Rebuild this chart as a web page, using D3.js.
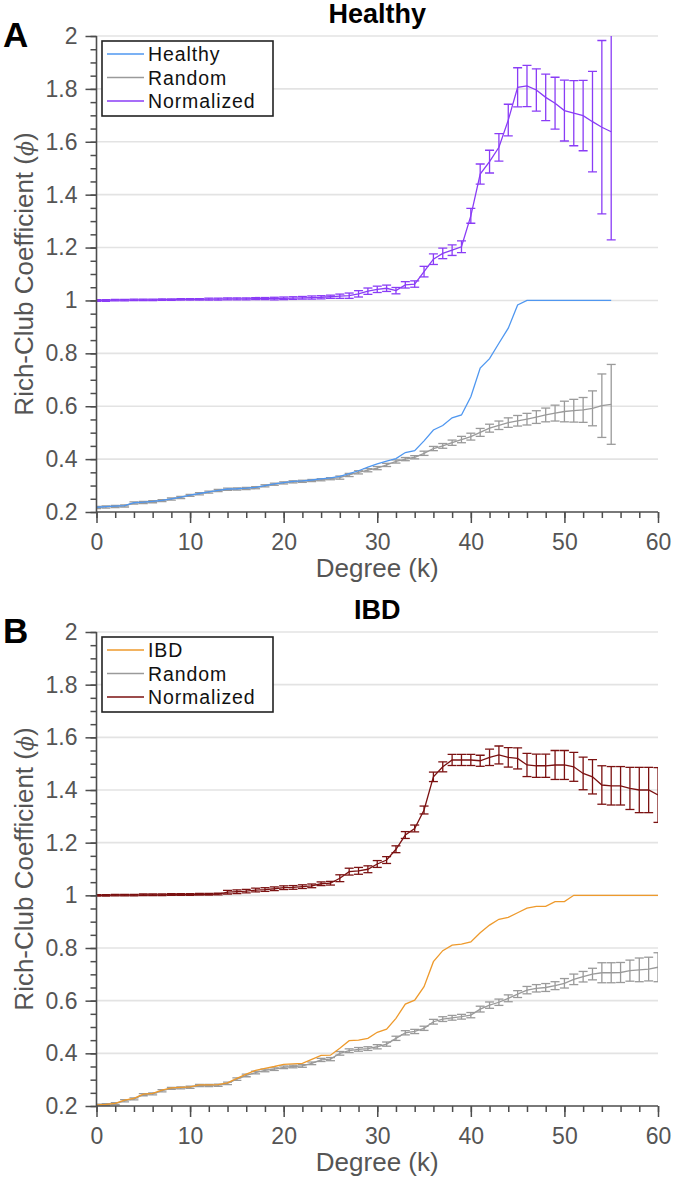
<!DOCTYPE html>
<html>
<head>
<meta charset="utf-8">
<script src="https://cdn.jsdelivr.net/npm/d3@7"></script>
<style>
  body{margin:0;background:#fff;}
  svg{display:block;font-family:"Liberation Sans",Arial,Helvetica,sans-serif;}
</style>
</head>
<body>
<script>
// degree values
var kHealthy=d3.range(0,56);
var kIBD=d3.range(0,61);

// panel A - healthy
var healthyVals=[0.218,0.220,0.222,0.224,0.235,0.237,0.240,0.244,0.250,0.256,
  0.264,0.270,0.276,0.282,0.287,0.288,0.290,0.293,0.300,0.306,
  0.311,0.316,0.318,0.321,0.325,0.329,0.335,0.345,0.356,0.370,
  0.382,0.392,0.402,0.425,0.432,0.469,0.510,0.527,0.556,0.567,
  0.636,0.744,0.780,0.838,0.895,0.983,1,1,1,1,
  1,1,1,1,1,1];
var healthyRandom=[0.217,0.219,0.221,0.223,0.234,0.236,0.239,0.243,0.249,0.255,
  0.263,0.269,0.275,0.281,0.286,0.287,0.289,0.292,0.299,0.305,
  0.310,0.314,0.316,0.319,0.322,0.326,0.330,0.340,0.350,0.358,
  0.366,0.378,0.391,0.400,0.407,0.422,0.440,0.450,0.462,0.474,
  0.485,0.501,0.517,0.528,0.538,0.545,0.551,0.559,0.567,0.574,
  0.580,0.583,0.586,0.592,0.602,0.607];
var healthyRandomErr=[0.004,0.004,0.004,0.004,0.004,0.004,0.004,0.004,0.004,0.004,
  0.004,0.004,0.004,0.004,0.004,0.004,0.004,0.004,0.004,0.004,
  0.004,0.004,0.004,0.004,0.004,0.004,0.006,0.006,0.006,0.006,
  0.006,0.006,0.006,0.006,0.006,0.008,0.008,0.009,0.01,0.012,
  0.013,0.015,0.015,0.016,0.018,0.02,0.022,0.024,0.026,0.03,
  0.039,0.043,0.047,0.066,0.12,0.151];
var healthyNorm=[1.000,1.000,1.001,1.001,1.002,1.002,1.002,1.003,1.003,1.004,
  1.004,1.004,1.005,1.005,1.006,1.006,1.006,1.007,1.007,1.007,
  1.008,1.009,1.010,1.011,1.012,1.014,1.016,1.018,1.025,1.035,
  1.042,1.046,1.037,1.059,1.062,1.109,1.156,1.178,1.190,1.203,
  1.320,1.478,1.525,1.579,1.682,1.806,1.811,1.796,1.768,1.746,
  1.718,1.708,1.699,1.676,1.655,1.638];
var healthyNormErr=[0.003,0.003,0.003,0.003,0.003,0.003,0.003,0.003,0.003,0.003,
  0.003,0.003,0.004,0.004,0.004,0.004,0.004,0.004,0.004,0.005,
  0.005,0.005,0.005,0.006,0.006,0.006,0.008,0.01,0.012,0.012,
  0.012,0.012,0.012,0.012,0.012,0.02,0.02,0.02,0.02,0.022,
  0.028,0.038,0.043,0.052,0.06,0.074,0.078,0.08,0.088,0.098,
  0.115,0.123,0.133,0.19,0.328,0.409];

// panel B - IBD
var ibdVals=[0.204,0.206,0.210,0.222,0.229,0.245,0.248,0.260,0.269,0.271,
  0.273,0.280,0.280,0.281,0.288,0.305,0.321,0.335,0.343,0.350,
  0.358,0.360,0.362,0.377,0.392,0.393,0.419,0.448,0.450,0.457,
  0.480,0.492,0.533,0.587,0.602,0.653,0.748,0.790,0.811,0.815,
  0.823,0.858,0.887,0.909,0.916,0.934,0.951,0.958,0.958,0.976,
  0.976,1,1,1,1,1,1,1,1,1,1];
var ibdRandom=[0.203,0.205,0.209,0.220,0.227,0.243,0.246,0.258,0.267,0.269,
  0.271,0.278,0.278,0.279,0.286,0.302,0.316,0.327,0.335,0.340,
  0.347,0.350,0.352,0.362,0.375,0.378,0.400,0.410,0.415,0.418,
  0.425,0.435,0.457,0.478,0.483,0.495,0.520,0.530,0.535,0.539,
  0.545,0.568,0.583,0.594,0.609,0.625,0.640,0.647,0.650,0.657,
  0.666,0.681,0.691,0.701,0.706,0.706,0.707,0.714,0.717,0.720,0.727];
var ibdRandomErr=[0.004,0.004,0.004,0.004,0.004,0.004,0.004,0.004,0.004,0.004,
  0.004,0.004,0.004,0.004,0.005,0.005,0.005,0.005,0.005,0.005,
  0.005,0.005,0.005,0.005,0.006,0.006,0.007,0.007,0.007,0.007,
  0.008,0.008,0.008,0.008,0.008,0.008,0.009,0.009,0.009,0.009,
  0.01,0.011,0.012,0.012,0.013,0.013,0.014,0.014,0.015,0.015,
  0.018,0.02,0.02,0.022,0.038,0.038,0.038,0.04,0.045,0.045,0.055];
var ibdNorm=[1.000,1.000,1.001,1.001,1.001,1.002,1.002,1.002,1.003,1.003,
  1.003,1.004,1.004,1.005,1.012,1.014,1.016,1.020,1.022,1.025,
  1.029,1.030,1.033,1.036,1.044,1.046,1.065,1.090,1.093,1.099,
  1.119,1.134,1.175,1.229,1.254,1.324,1.450,1.488,1.514,1.514,
  1.514,1.511,1.524,1.533,1.524,1.520,1.495,1.492,1.492,1.495,
  1.495,1.488,1.463,1.450,1.419,1.416,1.416,1.406,1.400,1.400,1.381];
var ibdNormErr=[0.003,0.003,0.003,0.003,0.003,0.003,0.003,0.003,0.003,0.003,
  0.003,0.003,0.003,0.003,0.007,0.007,0.007,0.007,0.007,0.007,
  0.007,0.007,0.007,0.007,0.007,0.007,0.013,0.013,0.013,0.013,
  0.013,0.013,0.013,0.013,0.013,0.015,0.018,0.019,0.021,0.021,
  0.021,0.021,0.031,0.034,0.037,0.04,0.044,0.044,0.044,0.055,
  0.055,0.055,0.062,0.065,0.073,0.073,0.073,0.08,0.086,0.086,0.104];

// ticks
var xTicks=[0,10,20,30,40,50,60];
var yTicks=[0.2,0.4,0.6,0.8,1,1.2,1.4,1.6,1.8,2];

var panels=[
  {letter:'A',title:'Healthy',top:36,bottom:512,k:kHealthy,
   series:[
     {name:'Healthy',vals:healthyVals,color:'#4f97f0'},
     {name:'Random',vals:healthyRandom,err:healthyRandomErr,color:'#9a9a9a'},
     {name:'Normalized',vals:healthyNorm,err:healthyNormErr,color:'#8a3cf6'}]},
  {letter:'B',title:'IBD',top:632,bottom:1106,k:kIBD,
   series:[
     {name:'IBD',vals:ibdVals,color:'#ee9a2c'},
     {name:'Random',vals:ibdRandom,err:ibdRandomErr,color:'#9a9a9a'},
     {name:'Normalized',vals:ibdNorm,err:ibdNormErr,color:'#7b1111'}]}
];

var width=675, height=1183;
var left=96.5, right=658;
var axisColor='#4d4d4d';

var svg=d3.select('body').append('svg')
  .attr('width',width)
  .attr('height',height);

panels.forEach(drawPanel);

function drawPanel(p,pi){
  var x=d3.scaleLinear().domain([0,60]).range([left,right]);
  var y=d3.scaleLinear().domain([0.2,2]).range([p.bottom,p.top]);
  var g=svg.append('g');

  // grid
  g.selectAll('line.grid')
    .data(yTicks.slice(1))
    .enter().append('line')
    .attr('class','grid')
    .attr('x1',left).attr('x2',right)
    .attr('y1',d=>y(d)).attr('y2',d=>y(d))
    .style('stroke','#e3e3e3')
    .style('stroke-width',1.6);

  // clip
  g.append('clipPath').attr('id','clip'+pi)
    .append('rect')
    .attr('x',left).attr('y',p.top)
    .attr('width',right-left).attr('height',p.bottom-p.top);

  var plot=g.append('g').attr('clip-path','url(#clip'+pi+')');
  var line=d3.line()
    .x((d,i)=>x(p.k[i]))
    .y(d=>y(d));

  // draw in order: random, main, normalized
  [1,0,2].forEach(function(si){
    var s=p.series[si];
    if(s.err){
      var eb=plot.append('g');
      var pts=s.vals.map((v,i)=>({k:p.k[i],v:v,e:s.err[i]}));
      eb.selectAll('line.bar').data(pts).enter().append('line')
        .attr('x1',d=>x(d.k)).attr('x2',d=>x(d.k))
        .attr('y1',d=>y(d.v+d.e)).attr('y2',d=>y(d.v-d.e))
        .style('stroke',s.color).style('stroke-width',1.3);
      eb.selectAll('line.capt').data(pts).enter().append('line')
        .attr('x1',d=>x(d.k)-4.5).attr('x2',d=>x(d.k)+4.5)
        .attr('y1',d=>y(d.v+d.e)).attr('y2',d=>y(d.v+d.e))
        .style('stroke',s.color).style('stroke-width',1.3);
      eb.selectAll('line.capb').data(pts).enter().append('line')
        .attr('x1',d=>x(d.k)-4.5).attr('x2',d=>x(d.k)+4.5)
        .attr('y1',d=>y(d.v-d.e)).attr('y2',d=>y(d.v-d.e))
        .style('stroke',s.color).style('stroke-width',1.3);
    }
    plot.append('path')
      .datum(s.vals)
      .attr('d',line)
      .style('fill','none')
      .style('stroke',s.color)
      .style('stroke-width',1.3);
  });

  // axes
  var xAxis=g.append('g').attr('transform','translate(0,'+p.bottom+')')
    .call(d3.axisBottom(x).tickValues(xTicks).tickSize(11).tickPadding(11).tickFormat(d3.format('d')));
  g.append('g').attr('transform','translate(0,'+p.bottom+')')
    .call(d3.axisBottom(x).tickValues(d3.range(0,61,2)).tickSize(6).tickFormat(''))
    .select('.domain').remove();
  var yAxis=g.append('g').attr('transform','translate('+left+',0)')
    .call(d3.axisLeft(y).tickValues(yTicks).tickSize(11).tickPadding(8).tickFormat(d3.format('~g')));
  g.append('g').attr('transform','translate('+left+',0)')
    .call(d3.axisLeft(y).tickValues(d3.range(0.2,2.001,0.05)).tickSize(6).tickFormat(''))
    .select('.domain').remove();

  xAxis.select('.domain').remove();
  yAxis.select('.domain').remove();
  g.append('path')
    .attr('d','M'+left+','+p.top+'V'+p.bottom+'H'+right)
    .style('fill','none').style('stroke',axisColor).style('stroke-width',1.6);
  g.selectAll('.tick line').style('stroke',axisColor).style('stroke-width',1.5);
  g.selectAll('.tick text')
    .style('font-size','23px')
    .style('fill','#555')
    .style('font-family','"Liberation Sans",Arial,sans-serif');

  // title
  g.append('text')
    .attr('x',(left+right)/2).attr('y',p.top-13)
    .attr('text-anchor','middle')
    .style('font-size','27px').style('font-weight','bold')
    .text(p.title);
  // panel letter
  g.append('text')
    .attr('x',3).attr('y',p.top+11)
    .style('font-size','35px').style('font-weight','bold')
    .text(p.letter);
  // axis labels
  g.append('text')
    .attr('x',(left+right)/2).attr('y',p.bottom+65)
    .attr('text-anchor','middle')
    .style('font-size','26px').style('fill','#555')
    .text('Degree (k)');
  var yl=g.append('text')
    .attr('transform','translate(33,'+((p.top+p.bottom)/2)+') rotate(-90)')
    .attr('text-anchor','middle')
    .style('font-size','26px').style('fill','#555');
  yl.append('tspan').text('Rich-Club Coefficient (');
  yl.append('tspan').style('font-style','italic').style('font-family','"DejaVu Serif",serif').style('font-size','22px').text('ϕ');
  yl.append('tspan').text(')');

  // legend
  var lg=g.append('g').attr('transform','translate(102,'+(p.top+5)+')');
  lg.append('rect')
    .attr('width',171).attr('height',75)
    .style('fill','#fff').style('stroke','#222').style('stroke-width',1.6);
  var items=lg.selectAll('g.item').data(p.series).enter().append('g')
    .attr('transform',(d,i)=>'translate(0,'+(13+i*23.5)+')');
  items.append('line')
    .attr('x1',5).attr('x2',42)
    .style('stroke',d=>d.color).style('stroke-width',1.5);
  items.append('text')
    .attr('x',46).attr('dy','0.36em')
    .style('font-size','19.5px').style('letter-spacing','0.9px').style('fill','#111')
    .text(d=>d.name);
}
</script>
</body>
</html>
